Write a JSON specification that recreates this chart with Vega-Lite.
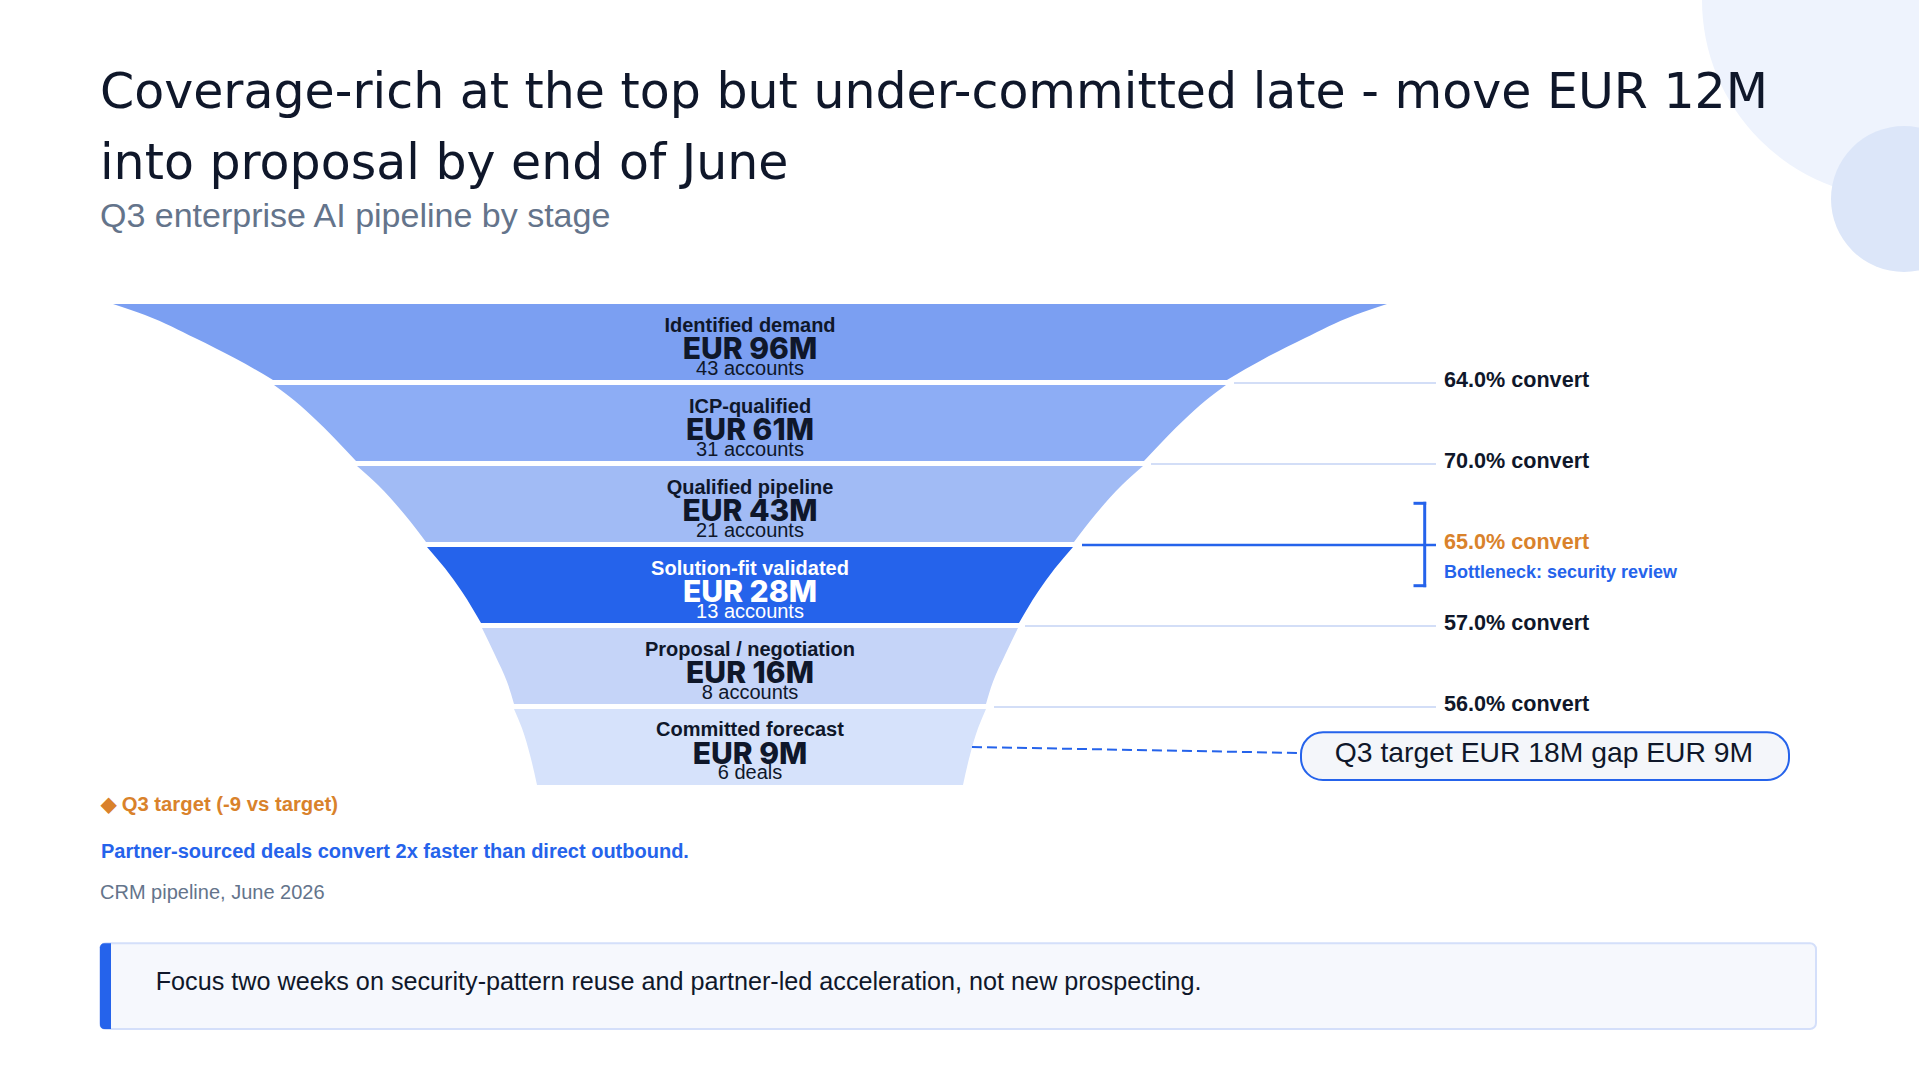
{
  "$schema": "https://vega.github.io/schema/vega-lite/v6.json",
  "width": 1919,
  "height": 1080,
  "autosize": {"type": "fit", "contains": "padding"},
  "padding": 0,
  "background": "#ffffff",
  "config": {
    "view": {"stroke": null},
    "axis": {"disable": true},
    "legend": {"disable": true}
  },
  "datasets": {
    "stages": [
      {"step": 0, "stage": "Identified demand", "eurM": 96, "amount": "EUR 96M", "detail": "43 accounts", "focus": false},
      {"step": 1, "stage": "ICP-qualified", "eurM": 61, "amount": "EUR 61M", "detail": "31 accounts", "focus": false},
      {"step": 2, "stage": "Qualified pipeline", "eurM": 43, "amount": "EUR 43M", "detail": "21 accounts", "focus": false},
      {"step": 3, "stage": "Solution-fit validated", "eurM": 28, "amount": "EUR 28M", "detail": "13 accounts", "focus": true},
      {"step": 4, "stage": "Proposal / negotiation", "eurM": 16, "amount": "EUR 16M", "detail": "8 accounts", "focus": false},
      {"step": 5, "stage": "Committed forecast", "eurM": 9, "amount": "EUR 9M", "detail": "6 deals", "focus": false}
    ],
    "profile": [
      {"stage": "Identified demand", "u": 0, "lo": -637, "hi": 637},
      {"stage": "Identified demand", "u": 0.136, "lo": -605, "hi": 605},
      {"stage": "Identified demand", "u": 0.42, "lo": -555, "hi": 555},
      {"stage": "Identified demand", "u": 0.67, "lo": -515, "hi": 515},
      {"stage": "Identified demand", "u": 0.938, "lo": -477, "hi": 477},
      {"stage": "ICP-qualified", "u": 1, "lo": -476, "hi": 476},
      {"stage": "ICP-qualified", "u": 1.198, "lo": -455, "hi": 455},
      {"stage": "ICP-qualified", "u": 1.42, "lo": -435, "hi": 435},
      {"stage": "ICP-qualified", "u": 1.638, "lo": -417, "hi": 417},
      {"stage": "ICP-qualified", "u": 1.938, "lo": -394, "hi": 394},
      {"stage": "Qualified pipeline", "u": 2, "lo": -393, "hi": 393},
      {"stage": "Qualified pipeline", "u": 2.235, "lo": -372, "hi": 372},
      {"stage": "Qualified pipeline", "u": 2.605, "lo": -345, "hi": 345},
      {"stage": "Qualified pipeline", "u": 2.938, "lo": -324, "hi": 324},
      {"stage": "Solution-fit validated", "u": 3, "lo": -323, "hi": 323},
      {"stage": "Solution-fit validated", "u": 3.263, "lo": -305, "hi": 305},
      {"stage": "Solution-fit validated", "u": 3.552, "lo": -288, "hi": 288},
      {"stage": "Solution-fit validated", "u": 3.938, "lo": -269, "hi": 269},
      {"stage": "Proposal / negotiation", "u": 4, "lo": -268, "hi": 268},
      {"stage": "Proposal / negotiation", "u": 4.333, "lo": -255, "hi": 255},
      {"stage": "Proposal / negotiation", "u": 4.663, "lo": -243, "hi": 243},
      {"stage": "Proposal / negotiation", "u": 4.938, "lo": -236, "hi": 236},
      {"stage": "Committed forecast", "u": 5, "lo": -236, "hi": 236},
      {"stage": "Committed forecast", "u": 5.238, "lo": -228, "hi": 228},
      {"stage": "Committed forecast", "u": 5.568, "lo": -220, "hi": 220},
      {"stage": "Committed forecast", "u": 5.938, "lo": -213, "hi": 213}
    ],
    "conversions": [
      {"at": 0.975, "from": 484, "rate": 64.0, "label": "64.0% convert", "focus": false},
      {"at": 1.975, "from": 401, "rate": 70.0, "label": "70.0% convert", "focus": false},
      {"at": 2.975, "from": 332, "rate": 65.0, "label": "65.0% convert", "focus": true},
      {"at": 3.975, "from": 275, "rate": 57.0, "label": "57.0% convert", "focus": false},
      {"at": 4.975, "from": 244, "rate": 56.0, "label": "56.0% convert", "focus": false}
    ]
  },
  "layer": [
    {
      "data": {"values": [{}]},
      "mark": {"type": "point", "shape": "circle", "filled": true, "size": 156816, "color": "#EEF3FD", "opacity": 1, "strokeWidth": 0, "clip": true},
      "encoding": {
        "x": {"datum": 1150, "type": "quantitative", "scale": {"domain": [-750, 1169], "nice": false, "zero": false}},
        "y": {"datum": -3.75309, "type": "quantitative", "scale": {"domain": [-3.75309, 9.58025], "nice": false, "zero": false, "reverse": true}}
      }
    },
    {
      "data": {"values": [{}]},
      "mark": {"type": "point", "shape": "circle", "filled": true, "size": 21316, "color": "#DCE6F9", "opacity": 1, "strokeWidth": 0, "clip": true},
      "encoding": {
        "x": {"datum": 1154, "type": "quantitative", "scale": {"domain": [-750, 1169], "nice": false, "zero": false}},
        "y": {"datum": -1.296, "type": "quantitative", "scale": {"domain": [-3.75309, 9.58025], "nice": false, "zero": false, "reverse": true}}
      }
    },
    {
      "data": {"name": "profile"},
      "mark": {"type": "area", "orient": "horizontal", "interpolate": "monotone", "opacity": 1},
      "encoding": {
        "y": {"field": "u", "type": "quantitative", "scale": {"domain": [-3.75309, 9.58025], "nice": false, "zero": false, "reverse": true}},
        "x": {"field": "lo", "type": "quantitative", "scale": {"domain": [-750, 1169], "nice": false, "zero": false}},
        "x2": {"field": "hi"},
        "color": {
          "field": "stage",
          "type": "nominal",
          "scale": {
            "domain": ["Identified demand", "ICP-qualified", "Qualified pipeline", "Solution-fit validated", "Proposal / negotiation", "Committed forecast"],
            "range": ["#7B9FF2", "#8DADF5", "#A1BBF5", "#2563EB", "#C5D4F8", "#D6E2FB"]
          }
        },
        "detail": {"field": "stage"}
      }
    },
    {
      "data": {"name": "conversions"},
      "mark": {"type": "rule"},
      "encoding": {
        "x": {"field": "from", "type": "quantitative", "scale": {"domain": [-750, 1169], "nice": false, "zero": false}},
        "x2": {"datum": 686},
        "y": {"field": "at", "type": "quantitative", "scale": {"domain": [-3.75309, 9.58025], "nice": false, "zero": false, "reverse": true}},
        "color": {"condition": {"test": "datum.focus", "value": "#2563EB"}, "value": "#D3DEF7"},
        "strokeWidth": {"condition": {"test": "datum.focus", "value": 2.5}, "value": 2}
      }
    },
    {
      "data": {"name": "conversions"},
      "mark": {"type": "text", "font": "Liberation Sans", "fontWeight": "bold", "fontSize": 21.6, "align": "left", "baseline": "alphabetic", "dy": 4},
      "encoding": {
        "x": {"datum": 694, "type": "quantitative", "scale": {"domain": [-750, 1169], "nice": false, "zero": false}},
        "y": {"field": "at", "type": "quantitative", "scale": {"domain": [-3.75309, 9.58025], "nice": false, "zero": false, "reverse": true}},
        "text": {"field": "label"},
        "color": {"condition": {"test": "datum.focus", "value": "#D9822B"}, "value": "#0F172A"}
      }
    },
    {
      "data": {"values": [{}]},
      "mark": {"type": "rule", "color": "#2563EB", "strokeWidth": 3, "strokeCap": "square"},
      "encoding": {
        "x": {"datum": 674.7, "type": "quantitative", "scale": {"domain": [-750, 1169], "nice": false, "zero": false}},
        "y": {"datum": 2.4605, "type": "quantitative", "scale": {"domain": [-3.75309, 9.58025], "nice": false, "zero": false, "reverse": true}},
        "y2": {"datum": 3.4778}
      }
    },
    {
      "data": {"values": [{}]},
      "mark": {"type": "rule", "color": "#2563EB", "strokeWidth": 3, "strokeCap": "square"},
      "encoding": {
        "x": {"datum": 665, "type": "quantitative", "scale": {"domain": [-750, 1169], "nice": false, "zero": false}},
        "x2": {"datum": 674.7},
        "y": {"datum": 2.4605, "type": "quantitative", "scale": {"domain": [-3.75309, 9.58025], "nice": false, "zero": false, "reverse": true}}
      }
    },
    {
      "data": {"values": [{}]},
      "mark": {"type": "rule", "color": "#2563EB", "strokeWidth": 3, "strokeCap": "square"},
      "encoding": {
        "x": {"datum": 665, "type": "quantitative", "scale": {"domain": [-750, 1169], "nice": false, "zero": false}},
        "x2": {"datum": 674.7},
        "y": {"datum": 3.4778, "type": "quantitative", "scale": {"domain": [-3.75309, 9.58025], "nice": false, "zero": false, "reverse": true}}
      }
    },
    {
      "data": {"values": [{}]},
      "mark": {"type": "text", "font": "Liberation Sans", "fontWeight": "bold", "fontSize": 18, "align": "left", "baseline": "alphabetic", "color": "#2563EB", "text": "Bottleneck: security review"},
      "encoding": {
        "x": {"datum": 694, "type": "quantitative", "scale": {"domain": [-750, 1169], "nice": false, "zero": false}},
        "y": {"datum": 3.3827, "type": "quantitative", "scale": {"domain": [-3.75309, 9.58025], "nice": false, "zero": false, "reverse": true}}
      }
    },
    {
      "data": {"values": [{}]},
      "mark": {"type": "rule", "color": "#2563EB", "strokeWidth": 2, "strokeDash": [10, 5]},
      "encoding": {
        "x": {"datum": 222, "type": "quantitative", "scale": {"domain": [-750, 1169], "nice": false, "zero": false}},
        "x2": {"datum": 551},
        "y": {"datum": 5.4691, "type": "quantitative", "scale": {"domain": [-3.75309, 9.58025], "nice": false, "zero": false, "reverse": true}},
        "y2": {"datum": 5.5432}
      }
    },
    {
      "data": {"values": [{}]},
      "mark": {"type": "rect", "fill": "#F4F6FA", "stroke": "#2563EB", "strokeWidth": 2, "cornerRadius": 22},
      "encoding": {
        "x": {"datum": 551, "type": "quantitative", "scale": {"domain": [-750, 1169], "nice": false, "zero": false}},
        "x2": {"datum": 1039},
        "y": {"datum": 5.288, "type": "quantitative", "scale": {"domain": [-3.75309, 9.58025], "nice": false, "zero": false, "reverse": true}},
        "y2": {"datum": 5.877}
      }
    },
    {
      "data": {"values": [{}]},
      "mark": {"type": "text", "font": "Liberation Sans", "fontSize": 28.3, "align": "center", "baseline": "alphabetic", "color": "#0F172A", "text": "Q3 target EUR 18M gap EUR 9M"},
      "encoding": {
        "x": {"datum": 794, "type": "quantitative", "scale": {"domain": [-750, 1169], "nice": false, "zero": false}},
        "y": {"datum": 5.6543, "type": "quantitative", "scale": {"domain": [-3.75309, 9.58025], "nice": false, "zero": false, "reverse": true}}
      }
    },
    {
      "data": {"name": "stages"},
      "mark": {"type": "text", "font": "Liberation Sans", "fontWeight": "bold", "fontSize": 20, "align": "center", "baseline": "alphabetic", "dy": 27.5},
      "encoding": {
        "x": {"datum": 0, "type": "quantitative", "scale": {"domain": [-750, 1169], "nice": false, "zero": false}},
        "y": {"field": "step", "type": "quantitative", "scale": {"domain": [-3.75309, 9.58025], "nice": false, "zero": false, "reverse": true}},
        "text": {"field": "stage"},
        "color": {"condition": {"test": "datum.focus", "value": "#FFFFFF"}, "value": "#0F172A"}
      }
    },
    {
      "data": {"name": "stages"},
      "mark": {"type": "text", "font": "Inter", "fontWeight": 800, "fontSize": 30, "align": "center", "baseline": "alphabetic", "dy": 55},
      "encoding": {
        "x": {"datum": 0, "type": "quantitative", "scale": {"domain": [-750, 1169], "nice": false, "zero": false}},
        "y": {"field": "step", "type": "quantitative", "scale": {"domain": [-3.75309, 9.58025], "nice": false, "zero": false, "reverse": true}},
        "text": {"field": "amount"},
        "color": {"condition": {"test": "datum.focus", "value": "#FFFFFF"}, "value": "#0F172A"}
      }
    },
    {
      "data": {"name": "stages"},
      "mark": {"type": "text", "font": "Liberation Sans", "fontSize": 20, "align": "center", "baseline": "alphabetic", "dy": 70.5},
      "encoding": {
        "x": {"datum": 0, "type": "quantitative", "scale": {"domain": [-750, 1169], "nice": false, "zero": false}},
        "y": {"field": "step", "type": "quantitative", "scale": {"domain": [-3.75309, 9.58025], "nice": false, "zero": false, "reverse": true}},
        "text": {"field": "detail"},
        "color": {"condition": {"test": "datum.focus", "value": "#FFFFFF"}, "value": "#0F172A"}
      }
    },
    {
      "data": {"values": [{}]},
      "mark": {"type": "text", "font": "DejaVu Sans", "fontWeight": 400, "fontSize": 49, "align": "left", "baseline": "alphabetic", "color": "#0F172A", "text": "Coverage-rich at the top but under-committed late - move EUR 12M"},
      "encoding": {
        "x": {"datum": -650, "type": "quantitative", "scale": {"domain": [-750, 1169], "nice": false, "zero": false}},
        "y": {"datum": -2.4198, "type": "quantitative", "scale": {"domain": [-3.75309, 9.58025], "nice": false, "zero": false, "reverse": true}}
      }
    },
    {
      "data": {"values": [{}]},
      "mark": {"type": "text", "font": "DejaVu Sans", "fontWeight": 400, "fontSize": 49, "align": "left", "baseline": "alphabetic", "color": "#0F172A", "text": "into proposal by end of June"},
      "encoding": {
        "x": {"datum": -650, "type": "quantitative", "scale": {"domain": [-750, 1169], "nice": false, "zero": false}},
        "y": {"datum": -1.5432, "type": "quantitative", "scale": {"domain": [-3.75309, 9.58025], "nice": false, "zero": false, "reverse": true}}
      }
    },
    {
      "data": {"values": [{}]},
      "mark": {"type": "text", "font": "Liberation Sans", "fontSize": 34, "align": "left", "baseline": "alphabetic", "color": "#64748B", "text": "Q3 enterprise AI pipeline by stage"},
      "encoding": {
        "x": {"datum": -650, "type": "quantitative", "scale": {"domain": [-750, 1169], "nice": false, "zero": false}},
        "y": {"datum": -0.9506, "type": "quantitative", "scale": {"domain": [-3.75309, 9.58025], "nice": false, "zero": false, "reverse": true}}
      }
    },
    {
      "data": {"values": [{}]},
      "mark": {"type": "text", "font": "Liberation Sans", "fontWeight": "bold", "fontSize": 20.3, "align": "left", "baseline": "alphabetic", "color": "#D9822B", "text": "◆ Q3 target (-9 vs target)"},
      "encoding": {
        "x": {"datum": -649, "type": "quantitative", "scale": {"domain": [-750, 1169], "nice": false, "zero": false}},
        "y": {"datum": 6.2556, "type": "quantitative", "scale": {"domain": [-3.75309, 9.58025], "nice": false, "zero": false, "reverse": true}}
      }
    },
    {
      "data": {"values": [{}]},
      "mark": {"type": "text", "font": "Liberation Sans", "fontWeight": "bold", "fontSize": 20, "align": "left", "baseline": "alphabetic", "color": "#2563EB", "text": "Partner-sourced deals convert 2x faster than direct outbound."},
      "encoding": {
        "x": {"datum": -649, "type": "quantitative", "scale": {"domain": [-750, 1169], "nice": false, "zero": false}},
        "y": {"datum": 6.8432, "type": "quantitative", "scale": {"domain": [-3.75309, 9.58025], "nice": false, "zero": false, "reverse": true}}
      }
    },
    {
      "data": {"values": [{}]},
      "mark": {"type": "text", "font": "Liberation Sans", "fontSize": 20, "align": "left", "baseline": "alphabetic", "color": "#64748B", "text": "CRM pipeline, June 2026"},
      "encoding": {
        "x": {"datum": -650, "type": "quantitative", "scale": {"domain": [-750, 1169], "nice": false, "zero": false}},
        "y": {"datum": 7.3494, "type": "quantitative", "scale": {"domain": [-3.75309, 9.58025], "nice": false, "zero": false, "reverse": true}}
      }
    },
    {
      "data": {"values": [{}]},
      "mark": {"type": "rect", "fill": "#F6F8FD", "stroke": "#D4DFFA", "strokeWidth": 2, "cornerRadius": 6},
      "encoding": {
        "x": {"datum": -650, "type": "quantitative", "scale": {"domain": [-750, 1169], "nice": false, "zero": false}},
        "x2": {"datum": 1066},
        "y": {"datum": 7.8926, "type": "quantitative", "scale": {"domain": [-3.75309, 9.58025], "nice": false, "zero": false, "reverse": true}},
        "y2": {"datum": 8.9506}
      }
    },
    {
      "data": {"values": [{}]},
      "mark": {"type": "rect", "fill": "#2563EB", "cornerRadiusTopLeft": 4, "cornerRadiusBottomLeft": 4},
      "encoding": {
        "x": {"datum": -650, "type": "quantitative", "scale": {"domain": [-750, 1169], "nice": false, "zero": false}},
        "x2": {"datum": -639},
        "y": {"datum": 7.8926, "type": "quantitative", "scale": {"domain": [-3.75309, 9.58025], "nice": false, "zero": false, "reverse": true}},
        "y2": {"datum": 8.9506}
      }
    },
    {
      "data": {"values": [{}]},
      "mark": {"type": "text", "font": "Liberation Sans", "fontSize": 25.2, "align": "left", "baseline": "alphabetic", "color": "#0F172A", "text": "Focus two weeks on security-pattern reuse and partner-led acceleration, not new prospecting."},
      "encoding": {
        "x": {"datum": -594.3, "type": "quantitative", "scale": {"domain": [-750, 1169], "nice": false, "zero": false}},
        "y": {"datum": 8.4691, "type": "quantitative", "scale": {"domain": [-3.75309, 9.58025], "nice": false, "zero": false, "reverse": true}}
      }
    }
  ]
}
